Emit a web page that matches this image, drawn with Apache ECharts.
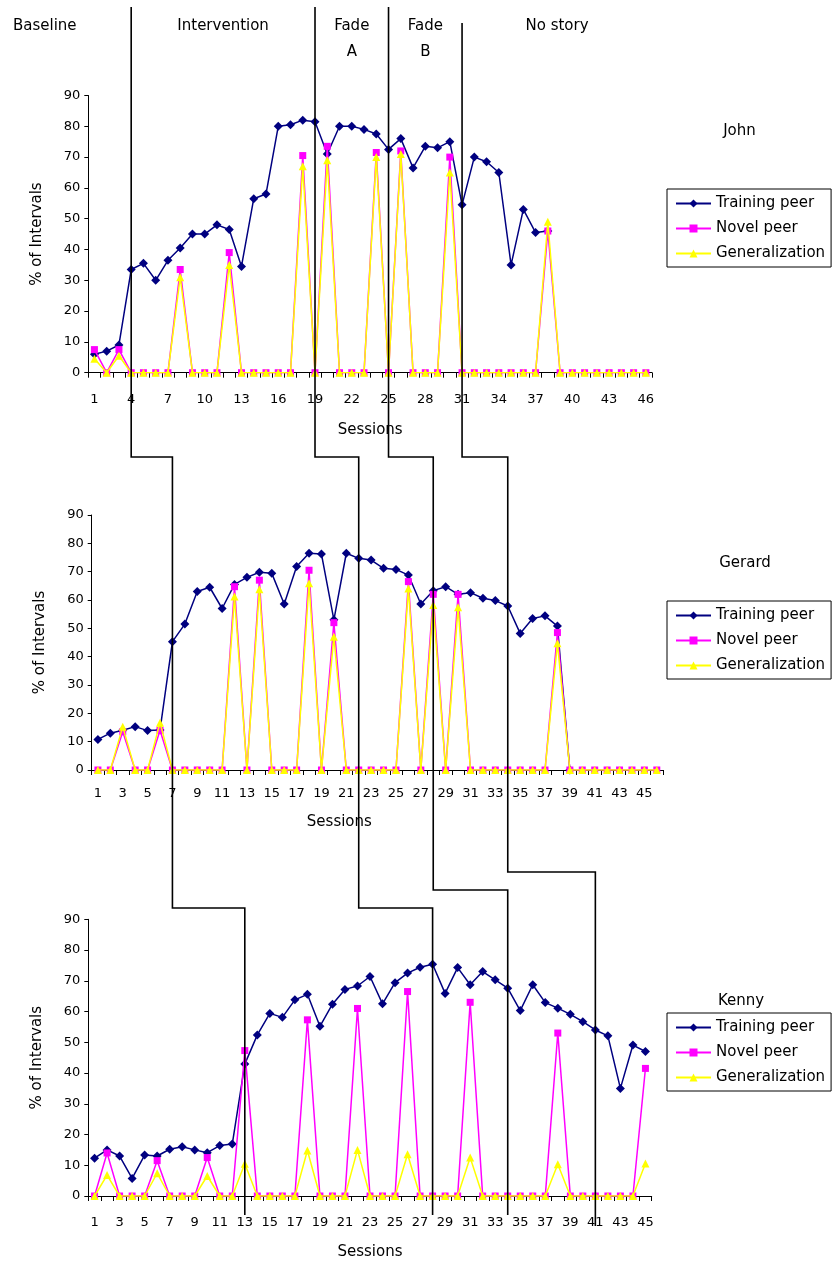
<!DOCTYPE html>
<html>
<head>
<meta charset="utf-8">
<script src="https://cdn.jsdelivr.net/npm/echarts@6/dist/echarts.min.js"></script>
<style>
html,body{margin:0;padding:0;background:#fff;}
#c{width:833px;height:1268px;}
</style>
</head>
<body>
<div id="c"></div>
<script>
// ---------------- DATA ----------------
const sessions46 = ['1','2','3','4','5','6','7','8','9','10','11','12','13','14','15','16','17','18','19','20','21','22','23','24','25','26','27','28','29','30','31','32','33','34','35','36','37','38','39','40','41','42','43','44','45','46'];
const sessions45 = ['1','2','3','4','5','6','7','8','9','10','11','12','13','14','15','16','17','18','19','20','21','22','23','24','25','26','27','28','29','30','31','32','33','34','35','36','37','38','39','40','41','42','43','44','45'];

const seriesNames = ['Training peer', 'Novel peer', 'Generalization'];
const participants = ['John', 'Gerard', 'Kenny'];
const phaseLabels = ['Baseline', 'Intervention', 'Fade\nA', 'Fade\nB', 'No story'];

// John
const johnTraining = [6, 7, 9, 33.5, 35.5, 30, 36.5, 40.5, 45, 45,
  48, 46.5, 34.5, 56.5, 58, 80, 80.5, 82, 81.5, 71,
  80, 80, 79, 77.5, 72.5, 76, 66.5, 73.5, 73, 75,
  54.5, 70, 68.5, 65, 35, 53, 45.5, 46];
const johnNovel = [7.5, 0, 7.5, 0, 0, 0, 0, 33.5, 0, 0,
  0, 39, 0, 0, 0, 0, 0, 70.5, 0, 73.5,
  0, 0, 0, 71.5, 0, 72, 0, 0, 0, 70,
  0, 0, 0, 0, 0, 0, 0, 46, 0, 0,
  0, 0, 0, 0, 0, 0];
const johnGeneral = [4.5, 0, 5.5, 0, 0, 0, 0, 31, 0, 0,
  0, 35, 0, 0, 0, 0, 0, 67, 0, 69,
  0, 0, 0, 70, 0, 71, 0, 0, 0, 65,
  0, 0, 0, 0, 0, 0, 0, 49, 0, 0,
  0, 0, 0, 0, 0, 0];

// Gerard
const gerardTraining = [10.8, 13, 14, 15.3, 13.9, 14.1, 45.3, 51.5, 63, 64.5,
  57, 65.5, 68, 69.8, 69.4, 58.6, 71.8, 76.5, 76.2, 53,
  76.5, 74.7, 74.1, 71.2, 70.8, 68.8, 58.6, 63.3, 64.7, 62,
  62.6, 60.6, 59.8, 57.9, 48.2, 53.5, 54.4, 50.8, 0];
const gerardNovel = [0, 0, 13.5, 0, 0, 14, 0, 0, 0, 0,
  0, 64.7, 0, 67, 0, 0, 0, 70.5, 0, 52,
  0, 0, 0, 0, 0, 66.5, 0, 62, 0, 62,
  0, 0, 0, 0, 0, 0, 0, 48.5, 0, 0,
  0, 0, 0, 0, 0, 0];
const gerardGeneral = [0, 0, 15.3, 0, 0, 16.7, 0, 0, 0, 0,
  0, 61.2, 0, 63.8, 0, 0, 0, 65.9, 0, 47,
  0, 0, 0, 0, 0, 64.1, 0, 58.2, 0, 57.4,
  0, 0, 0, 0, 0, 0, 0, 44.7, 0, 0,
  0, 0, 0, 0, 0, 0];

// Kenny
const kennyTraining = [12.3, 15, 13, 5.7, 13.3, 13, 15.2, 16, 15, 14.1,
  16.4, 16.9, 42.9, 52.4, 59.4, 58.1, 63.8, 65.6, 55.2, 62.4,
  67.2, 68.3, 71.4, 62.5, 69.4, 72.5, 74.4, 75.4, 65.9, 74.3,
  68.7, 73, 70.3, 67.6, 60.3, 68.7, 62.9, 61.1, 59.1, 56.7,
  54, 52.1, 35, 49.1, 47];
const kennyNovel = [0, 14, 0, 0, 0, 11.5, 0, 0, 0, 12.5,
  0, 0, 47.3, 0, 0, 0, 0, 57.3, 0, 0,
  0, 61, 0, 0, 0, 66.5, 0, 0, 0, 0,
  63, 0, 0, 0, 0, 0, 0, 53, 0, 0,
  0, 0, 0, 0, 41.5];
const kennyGeneral = [0, 6.8, 0, 0, 0, 7.4, 0, 0, 0, 6.5,
  0, 0, 10.5, 0, 0, 0, 0, 14.8, 0, 0,
  0, 15, 0, 0, 0, 13.6, 0, 0, 0, 0,
  12.5, 0, 0, 0, 0, 0, 0, 10.3, 0, 0,
  0, 0, 0, 0, 10.6];

// Phase-change sessions (first session of each new phase) per participant
const phaseJohn = [4, 19, 25, 31];
const phaseGerard = [7, 22, 28, 34];
const phaseKenny = [13, 28, 34, 41];

// ---------------- LAYOUT ----------------
const FONT = 'DejaVu Sans';
const grids = [
  {left: 88.3, top: 95.5, width: 563.7, height: 277.2},
  {left: 91.7, top: 515, width: 571.3, height: 255},
  {left: 88.3, top: 919.3, width: 563.4, height: 276.7}
];
const xLabelInterval = [2, 1, 1];
const xLabelMargin = [20, 17, 20];
const xNameGap = [50, 45, 49];
const xNamePad = [[0,0,0,0], [0,76,0,0], [0,0,0,0]];
const legendTops = [189, 601, 1013];
const namePos = [[739.5, 131.5], [745, 563], [741, 1001]];
const lineTop = [7, 7, 7, 23];
const conn1Y = 457;
const conn2Y = [908, 908, 890, 872];
const lineBottom = [1215, 1215, 1215, 1226];

const colors = ['#000080', '#FF00FF', '#FFFF00'];
const symbols = ['diamond', 'rect', 'triangle'];
const symbolSizes = [9, 7, 8];

const chart = echarts.init(document.getElementById('c'), null, {renderer: 'canvas'});

const dataSets = [
  [johnTraining, johnNovel, johnGeneral],
  [gerardTraining, gerardNovel, gerardGeneral],
  [kennyTraining, kennyNovel, kennyGeneral]
];
const cats = [sessions46, sessions46, sessions45];

const series = [];
dataSets.forEach((set, gi) => {
  set.forEach((d, si) => {
    series.push({
      name: seriesNames[si],
      type: 'line',
      xAxisIndex: gi,
      yAxisIndex: gi,
      data: d,
      symbol: symbols[si],
      symbolSize: symbolSizes[si],
      showSymbol: true,
      showAllSymbol: true,
      itemStyle: {color: colors[si]},
      lineStyle: {color: colors[si], width: 1.5},
      z: 2 + si,
      animation: false
    });
  });
});

const option = {
  animation: false,
  backgroundColor: '#fff',
  grid: grids.map(g => Object.assign({containLabel: false}, g)),
  xAxis: grids.map((g, i) => ({
    type: 'category',
    gridIndex: i,
    data: cats[i],
    boundaryGap: true,
    axisLine: {show: true, onZero: false, lineStyle: {color: '#000', width: 1}},
    axisTick: {show: true, interval: 0, length: 5, lineStyle: {color: '#000'}},
    axisLabel: {interval: xLabelInterval[i], margin: xLabelMargin[i], fontSize: 13, fontFamily: FONT, color: '#000'},
    splitLine: {show: false},
    name: 'Sessions',
    nameLocation: 'middle',
    nameGap: xNameGap[i],
    nameTextStyle: {fontSize: 15, fontFamily: FONT, color: '#000', padding: xNamePad[i]}
  })),
  yAxis: grids.map((g, i) => ({
    type: 'value',
    gridIndex: i,
    min: 0,
    max: 90,
    interval: 10,
    axisLine: {show: true, lineStyle: {color: '#000', width: 1}},
    axisTick: {show: true, length: 4, lineStyle: {color: '#000'}},
    axisLabel: {margin: 8, fontSize: 13, fontFamily: FONT, color: '#000'},
    splitLine: {show: false},
    name: '% of Intervals',
    nameLocation: 'middle',
    nameGap: 44,
    nameTextStyle: {fontSize: 15, fontFamily: FONT, color: '#000'}
  })),
  legend: legendTops.map(t => ({
    data: seriesNames,
    orient: 'vertical',
    left: 667,
    top: t,
    selectedMode: false,
    borderColor: '#000',
    borderWidth: 1,
    padding: [7, 6, 6, 8],
    itemGap: 10,
    itemWidth: 35,
    itemHeight: 10,
    textStyle: {fontSize: 15, fontFamily: FONT, color: '#000'}
  })),
  series: series
};

chart.setOption(option);

// ---------------- PHASE LINES & LABELS ----------------
const phaseSets = [phaseJohn, phaseGerard, phaseKenny];
const graphic = [];
const johnXs = [];
for (let k = 0; k < 4; k++) {
  const xs = phaseSets.map((p, gi) => chart.convertToPixel({xAxisIndex: gi}, p[k] - 1));
  johnXs.push(xs[0]);
  graphic.push({
    type: 'polyline',
    silent: true,
    shape: {points: [
      [xs[0], lineTop[k]], [xs[0], conn1Y], [xs[1], conn1Y],
      [xs[1], conn2Y[k]], [xs[2], conn2Y[k]], [xs[2], lineBottom[k]]
    ]},
    style: {stroke: '#000', lineWidth: 1.6, fill: null},
    z: 100
  });
}
// header labels
const johnAxisEnd = grids[0].left + grids[0].width;
const headerCenters = [null,
  (johnXs[0] + johnXs[1]) / 2,
  (johnXs[1] + johnXs[2]) / 2,
  (johnXs[2] + johnXs[3]) / 2,
  (johnXs[3] + johnAxisEnd) / 2];
phaseLabels.forEach((lab, i) => {
  graphic.push({
    type: 'text',
    silent: true,
    x: i === 0 ? 13 : headerCenters[i],
    y: 13,
    style: {text: lab, fontSize: 15, fontFamily: FONT, fill: '#000',
            align: i === 0 ? 'left' : 'center', verticalAlign: 'top', lineHeight: 26}
  });
});
// participant names
participants.forEach((n, i) => {
  graphic.push({
    type: 'text',
    silent: true,
    x: namePos[i][0],
    y: namePos[i][1],
    style: {text: n, fontSize: 15, fontFamily: FONT, fill: '#000', align: 'center', verticalAlign: 'middle'}
  });
});

chart.setOption({graphic: graphic});
</script>
</body>
</html>
